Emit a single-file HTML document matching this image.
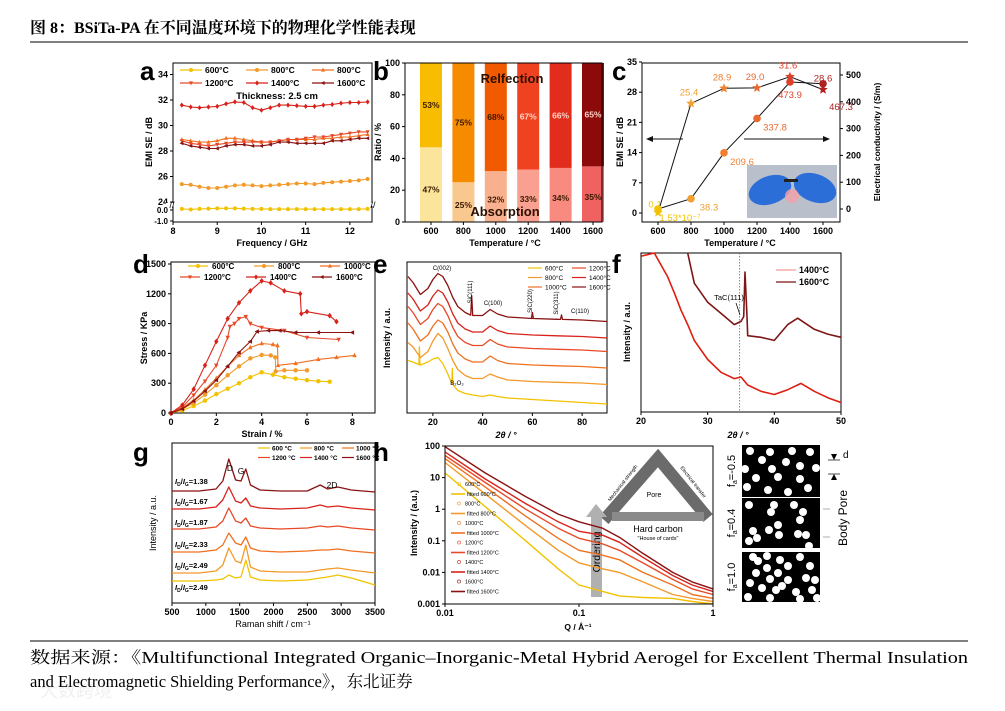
<!DOCTYPE html>
<html><head><meta charset="utf-8"><style>
html,body{margin:0;padding:0;background:#fff;}
svg{display:block;}
</style></head><body>
<svg id="fig" width="1005" height="711" viewBox="0 0 1005 711" xmlns="http://www.w3.org/2000/svg">
<rect width="1005" height="711" fill="#fff"/>
<text x="30" y="33" font-family="Liberation Serif, Noto Serif CJK SC, serif" font-weight="bold" font-size="16">图 8：BSiTa-PA 在不同温度环境下的物理化学性能表现</text>
<line x1="30" y1="42" x2="968" y2="42" stroke="#000" stroke-width="1"/>
<line x1="30" y1="641" x2="968" y2="641" stroke="#000" stroke-width="1"/>
<text x="40" y="697" font-family="Liberation Sans, Noto Sans CJK SC, sans-serif" font-size="18" fill="#f0f0f0">大数跨境</text>
<text x="30" y="663" font-family="Liberation Serif, Noto Serif CJK SC, serif" font-size="16.5" textLength="938" lengthAdjust="spacingAndGlyphs">数据来源：《Multifunctional Integrated Organic–Inorganic-Metal Hybrid Aerogel for Excellent Thermal Insulation</text>
<text x="30" y="687" font-family="Liberation Serif, Noto Serif CJK SC, serif" font-size="16.5">and Electromagnetic Shielding Performance》，东北证券</text>
</svg>
<script>
// ---------- data ----------
const tempNames=['600°C','800°C','1000°C','1200°C','1400°C','1600°C'];
const colors=['#f2c200','#f39a2a','#f07020','#e84a28','#d8221a','#8a1212'];
// panel a
const freqA=[8.2,8.4,8.6,8.8,9.0,9.2,9.4,9.6,9.8,10.0,10.2,10.4,10.6,10.8,11.0,11.2,11.4,11.6,11.8,12.0,12.2,12.4];
const seA600=[0.1,0.05,0.1,0.12,0.15,0.15,0.15,0.12,0.1,0.1,0.08,0.08,0.08,0.08,0.08,0.08,0.08,0.08,0.08,0.08,0.08,0.1];
const seA800=[25.4,25.35,25.2,25.1,25.1,25.2,25.3,25.35,25.3,25.25,25.3,25.35,25.4,25.45,25.45,25.4,25.5,25.55,25.6,25.65,25.7,25.8];
const seA1000=[28.9,28.8,28.7,28.7,28.8,29.0,29.0,28.9,28.8,28.7,28.7,28.8,28.9,28.9,28.9,28.9,29.0,29.0,29.1,29.1,29.2,29.3];
const seA1200=[28.8,28.6,28.5,28.4,28.5,28.6,28.7,28.7,28.7,28.7,28.7,28.8,28.9,28.9,29.0,29.1,29.1,29.2,29.3,29.4,29.5,29.5];
const seA1400=[31.6,31.45,31.4,31.45,31.5,31.7,31.85,31.8,31.4,31.2,31.4,31.6,31.6,31.55,31.5,31.5,31.6,31.65,31.75,31.8,31.8,31.85];
const seA1600=[28.6,28.4,28.3,28.2,28.2,28.4,28.5,28.5,28.4,28.4,28.5,28.7,28.7,28.6,28.6,28.6,28.6,28.8,28.8,28.9,29.0,29.0];
const legendA=['600°C','800°C','800°C','1200°C','1400°C','1600°C'];
// panel b
const tempsB=[600,800,1000,1200,1400,1600];
const absorptionB=[47,25,32,33,34,35];
const reflectionB=[53,75,68,67,66,65];
// panel c
const tempsC=[600,800,1000,1200,1400,1600];
const seC=[0.1,25.4,28.9,29.0,31.6,28.6];
const condC=[0.0000002,38.3,209.6,337.8,473.9,467.3];
const condLabelsC=['1.53*10⁻⁷','38.3','209.6','337.8','473.9','467.3'];
// panel d
const dStrain600=[0,0.5,1,1.5,2,2.5,3,3.5,4,4.5,5,5.5,6,6.5,7];
const dStress600=[0,25,70,125,190,245,300,360,410,385,360,345,330,320,315];
const dStrain800=[0,0.5,1,1.5,2,2.5,3,3.5,4,4.4,4.6,4.62,5,5.5,6];
const dStress800=[0,40,100,185,280,380,470,550,585,580,560,420,430,430,430];
const dStrain1000=[0,0.5,1,1.5,2,2.5,3,3.5,4,4.5,4.7,4.72,5.5,6.5,7.3,8.1];
const dStress1000=[0,50,130,235,350,470,580,660,700,690,680,480,500,540,560,580];
const dStrain1200=[0,0.5,1,1.5,2,2.5,2.6,2.8,3,3.3,3.5,4,5,6,7.4];
const dStress1200=[0,60,180,320,480,760,870,900,950,970,900,860,830,760,740];
const dStrain1400=[0,0.5,1,1.5,2,2.5,3,3.5,4,4.4,5,5.7,5.75,6,7,7.3];
const dStress1400=[0,80,240,480,720,950,1110,1230,1330,1310,1230,1200,1000,1020,980,920];
const dStrain1600=[0,0.5,1,1.5,2,2.5,3,3.5,3.8,4.3,4.8,5.5,6.5,8];
const dStress1600=[0,40,120,220,330,470,610,720,820,830,830,810,810,810];
// panel e
const twoThetaE=[10,12,15,18,20,22,24,26,28,30,33,36,40,43,46,50,60,70,80,90];
const xrdE600=[35,34,32,34,36,37,33,26,19,15,13,12,11,12,11,10,9,8,7,6];
const xrdE800=[47,44,37,41,48,53,50,43,35,29,25,23,23,26,24,22,21,20.5,20,19];
const xrdE1000=[60,56,48,52,58,62,60,54,46,40,36,34,34,38,35,33,32,31.5,31,30];
const xrdE1200=[71,67,59,63,69,73,71,65,57,51,47,45,45,49,46,44,43,42.5,42,41];
const xrdE1400=[80,76,68,72,78,82,80,74,66,60,56,54,54,58,55,53,52,51.5,51,50];
const xrdE1600=[91,87,79,83,89,93,91,85,77,71,67,65,65,69,66,64,63,62.5,62,61];
const sicPeakPosE=[35.6,60,71.7];
const sicPeakHtE=[13,4,3];
// panel f
const twoThetaF1400=[20,22,24,25,26,27,28,29,30,32,34,35,36,38,40,42,44,46,48,50];
const xrdF1400=[98,100,85,75,64,55,45,39,33,25,21,22,17,13,11,14,18,13,9,6];
const twoThetaF1600=[27,28,30,32,34,35,35.4,35.6,35.9,36,38,40,42,43.5,46,48,50];
const xrdF1600=[100,81,69,62,55,57,60,88,60,48,47,45,55,59,52,49,47];
// panel g
const ramanG=[500,900,1150,1250,1340,1440,1520,1590,1660,1800,2100,2500,2690,2800,2950,3150,3500];
const rG600=[22,22,23,24,28,25,26,43,26,23,22,23,25,26,28,25,18];
const rG800=[30,30,32,38,55,42,40,58,36,32,31,31,33,34,35,33,30];
const rG1000=[51,51,53,58,70,60,58,66,55,52,51,52,53,53,54,52,50];
const rG1200=[74,74,76,82,95,82,80,85,77,75,74,75,77,76,77,75,73];
const rG1400=[94,94,96,103,116,102,100,105,97,95,94,95,98,96,97,95,93];
const rG1600=[112,112,114,122,144,123,122,134,118,113,112,112,118,114,116,113,111];
const ratioG=['1.38','1.67','1.87','2.33','2.49','2.49'];
// panel h
const qH=[0.01,0.02,0.04,0.07,0.1,0.15,0.2,0.3,0.5,0.7,1];
const iH600=[14,1.2,0.1,0.013,0.004,0.0025,0.0018,0.0016,0.0015,0.0012,0.001];
const iH800=[30,3,0.3,0.05,0.02,0.013,0.01,0.005,0.002,0.0015,0.0012];
const iH1000=[40,5,0.6,0.12,0.05,0.035,0.025,0.01,0.004,0.002,0.0015];
const iH1200=[50,7,1,0.25,0.12,0.08,0.05,0.02,0.006,0.003,0.002];
const iH1400=[65,9,1.5,0.4,0.2,0.15,0.09,0.03,0.008,0.004,0.0025];
const iH1600=[95,14,2.5,0.7,0.4,0.25,0.13,0.04,0.01,0.005,0.003];

// ---------- helpers ----------
const NS='http://www.w3.org/2000/svg';
const svg=document.getElementById('fig');
const FF='Liberation Sans, Arial, sans-serif';
function el(tag,attrs,name,parent){
  const e=document.createElementNS(NS,tag);
  for(const k in attrs)e.setAttribute(k,attrs[k]);
  
  
  (parent||svg).appendChild(e);return e;
}
function txt(x,y,s,name,o){
  const a=Object.assign({x:x,y:y,'font-size':9,'font-family':FF,'text-anchor':'middle','font-weight':'bold'},o||{});
  const t=el('text',a,name);t.textContent=s;return t;
}
function vtxt(x,y,s,name,o){
  const a=Object.assign({x:0,y:0,'font-size':9,'font-family':FF,'text-anchor':'middle','font-weight':'bold',transform:'translate('+x+','+y+') rotate(-90)'},o||{});
  const t=el('text',a,name);t.textContent=s;return t;
}
function lin(d0,d1,r0,r1){return v=>r0+(v-d0)*(r1-r0)/(d1-d0);}
function poly(pts,c,name,w){
  return el('polyline',{points:pts.map(p=>p[0].toFixed(1)+','+p[1].toFixed(1)).join(' '),fill:'none',stroke:c,'stroke-width':w||1.2,'stroke-linejoin':'round'},name);
}
function mark(type,x,y,c,name,s){
  s=s||2.4;let p;
  if(type==='circle')return el('circle',{cx:x,cy:y,r:s,fill:c},name);
  if(type==='up')p=[[x,y-s*1.2],[x-s,y+s*.8],[x+s,y+s*.8]];
  else if(type==='down')p=[[x,y+s*1.2],[x-s,y-s*.8],[x+s,y-s*.8]];
  else if(type==='left')p=[[x-s*1.2,y],[x+s*.8,y-s],[x+s*.8,y+s]];
  else if(type==='star'){p=[];for(let i=0;i<10;i++){const r=i%2?s*0.45:s;const a=-Math.PI/2+i*Math.PI/5;p.push([x+r*Math.cos(a),y+r*Math.sin(a)]);}}
  else p=[[x,y-s*1.3],[x-s,y],[x,y+s*1.3],[x+s,y]];
  return el('polygon',{points:p.map(q=>q[0].toFixed(1)+','+q[1].toFixed(1)).join(' '),fill:c},name);
}
function box(x0,y0,x1,y1,name){el('rect',{x:x0,y:y0,width:x1-x0,height:y1-y0,fill:'none',stroke:'#000','stroke-width':1},name);}
function xticks(vals,sx,yb,name,labels,fs){vals.forEach((v,i)=>{const x=sx(v);el('line',{x1:x,y1:yb,x2:x,y2:yb+3,stroke:'#000'},name+'-tick');txt(x,yb+12,labels?labels[i]:String(v),name+'-label',{'font-size':fs||9});});}
function yticks(vals,sy,xl,name,labels,right,fs){vals.forEach((v,i)=>{const y=sy(v);el('line',{x1:xl,y1:y,x2:right?xl+3:xl-3,y2:y,stroke:'#000'},name+'-tick');txt(right?xl+6:xl-5,y+3,labels?labels[i]:String(v),name+'-label',{'text-anchor':right?'start':'end','font-size':fs||9});});}
function plabel(x,y,s){txt(x,y,s,'panel-label-'+s,{'font-size':26,'text-anchor':'start'});}
const mk=['circle','circle','up','down','diamond','left'];

// ---------- panel a ----------
(function(){
  const xa=lin(8,12.5,173,372);
  const ya=v=>v>=20?202-(v-24)*12.75:210-v*11;
  box(173,63,372,222,'panel-a-frame');
  xticks([8,9,10,11,12],xa,222,'a-x');
  yticks([24,26,28,30,32,34],ya,173,'a-y');
  yticks([0,-1],ya,173,'a-y-broken',['0.0','-1.0'],false,8);
  el('rect',{x:166,y:203,width:212,height:3,fill:'#fff'},'a-axis-break-gap');
  txt(172,208,'//','a-axis-break-left',{'font-size':9,'font-weight':'normal'});
  txt(373,208,'//','a-axis-break-right',{'font-size':9,'font-weight':'normal'});
  const series=[seA600,seA800,seA1000,seA1200,seA1400,seA1600];
  series.forEach((s,k)=>{
    const pts=s.map((v,i)=>[xa(freqA[i]),ya(v)]);
    poly(pts,colors[k],'a-line-'+tempNames[k],1.1);
    pts.forEach(p=>mark(mk[k],p[0],p[1],colors[k],'a-point',2));
  });
  legendA.forEach((n,k)=>{const x=180+(k%3)*66,y=70+Math.floor(k/3)*13;
    el('line',{x1:x,y1:y,x2:x+22,y2:y,stroke:colors[k],'stroke-width':1.2},'a-legend-line');
    mark(mk[k],x+11,y,colors[k],'a-legend-marker',2);
    txt(x+25,y+3,n,'a-legend-entry',{'text-anchor':'start','font-size':8.5});});
  txt(277,99,'Thickness: 2.5 cm','a-annotation',{'font-size':9.5});
  txt(272,246,'Frequency / GHz','a-x-title');
  vtxt(152,142,'EMI SE / dB','a-y-title');
  plabel(140,80,'a');
})();

// ---------- panel b ----------
(function(){
  const xb=lin(600,1600,431,593);
  const yb=lin(0,100,222,63);
  const rc=['#f8bd00','#f68b00','#f25a00','#ef4220','#e22c1c','#8c0a0a'];
  const ac=['#fbe49c','#f9c88e','#f9b08e','#f9a090','#f88a80','#f06262'];
  tempsB.forEach((t,i)=>{
    const x=xb(t)-11;
    el('rect',{x:x,y:yb(absorptionB[i]),width:22,height:yb(0)-yb(absorptionB[i]),fill:ac[i]},'b-bar-absorption-'+t);
    el('rect',{x:x,y:yb(absorptionB[i]+reflectionB[i]),width:22,height:yb(absorptionB[i])-yb(absorptionB[i]+reflectionB[i]),fill:rc[i]},'b-bar-reflection-'+t);
    txt(xb(t),yb(absorptionB[i]+reflectionB[i]/2)+3,reflectionB[i]+'%','b-value-reflection',{fill:i>2?'#ffd4c8':'#3a1a00','font-size':8.5});
    txt(xb(t),yb(absorptionB[i]/2)+(i===0?8:6),absorptionB[i]+'%','b-value-absorption',{fill:'#3a1a00','font-size':8.5});
  });
  box(405,63,602,222,'panel-b-frame');
  xticks(tempsB,xb,222,'b-x');
  yticks([0,20,40,60,80,100],yb,405,'b-y');
  txt(512,83,'Relfection','b-reflection-label',{'font-size':13,fill:'#2a1000'});
  txt(505,216,'Absorption','b-absorption-label',{'font-size':13,fill:'#2a1000'});
  txt(505,246,'Temperature / °C','b-x-title');
  vtxt(381,142,'Ratio / %','b-y-title');
  plabel(373,80,'b');
})();

// ---------- panel c ----------
(function(){
  const xc=lin(600,1600,658,823);
  const yl=lin(0,35,213,62);
  const yr=lin(0,500,209,75);
  el('rect',{x:747,y:165,width:90,height:53,fill:'#b9c0cc'},'c-photo-inset');
  el('ellipse',{cx:770,cy:190,rx:22,ry:14,fill:'#2c6ed8',transform:'rotate(-20 770 190)'},'c-photo-glove-left');
  el('ellipse',{cx:815,cy:188,rx:22,ry:14,fill:'#2c6ed8',transform:'rotate(20 815 188)'},'c-photo-glove-right');
  el('circle',{cx:792,cy:196,r:7,fill:'#f4a0a8',opacity:0.8},'c-photo-led-glow');
  el('rect',{x:784,y:179,width:14,height:3,fill:'#222'},'c-photo-sample');
  box(642,63,840,222,'panel-c-frame');
  xticks(tempsC,xc,222,'c-x');
  yticks([0,7,14,21,28,35],yl,642,'c-y-left');
  yticks([0,100,200,300,400,500],yr,840,'c-y-right',null,true);
  poly(tempsC.map((t,i)=>[xc(t),yl(seC[i])]),'#111','c-line-emi-se',1);
  poly(tempsC.map((t,i)=>[xc(t),yr(condC[i])]),'#111','c-line-conductivity',1);
  const cc=['#f2c200','#f2a030','#f08030','#e86a30','#e0402a','#b02020'];
  tempsC.forEach((t,i)=>{
    mark('circle',xc(t),yr(condC[i]),cc[i],'c-point-conductivity',3.8);
    mark('star',xc(t),yl(seC[i]),cc[i],'c-point-emi-se',5);
    txt(xc(t)+(i===0?-3:(i===5?0:-2)),yl(seC[i])-(i===0?5:8),String(seC[i].toFixed(1)),'c-value-emi-se',{fill:cc[i],'font-size':9.5,'font-weight':'normal'});
    txt(xc(t)+(i===0?22:(i===4?0:18)),yr(condC[i])+(i===4?16:(i===5?26:12)),condLabelsC[i],'c-value-conductivity',{fill:cc[i],'font-size':9.5,'font-weight':'normal'});
  });
  el('line',{x1:683,y1:139,x2:649,y2:139,stroke:'#111','stroke-width':1},'c-arrow-left');
  el('polygon',{points:'646,139 653,136 653,142',fill:'#111'},'c-arrow-left-head');
  el('line',{x1:744,y1:139,x2:826,y2:139,stroke:'#111','stroke-width':1},'c-arrow-right');
  el('polygon',{points:'830,139 823,136 823,142',fill:'#111'},'c-arrow-right-head');
  txt(740,246,'Temperature / °C','c-x-title');
  vtxt(623,142,'EMI SE / dB','c-y-left-title');
  vtxt(880,142,'Electrical conductivity / (S/m)','c-y-right-title',{'font-size':8.5});
  plabel(612,80,'c');
})();

// ---------- panel d ----------
(function(){
  const xd=lin(0,9,171,375);
  const yd=lin(0,1500,413,264);
  box(171,262,375,413,'panel-d-frame');
  xticks([0,2,4,6,8],xd,413,'d-x');
  yticks([0,300,600,900,1200,1500],yd,171,'d-y');
  const sx=[dStrain600,dStrain800,dStrain1000,dStrain1200,dStrain1400,dStrain1600];
  const sy=[dStress600,dStress800,dStress1000,dStress1200,dStress1400,dStress1600];
  sx.forEach((xs,k)=>{
    const pts=xs.map((v,i)=>[xd(v),yd(sy[k][i])]);
    poly(pts,colors[k],'d-line-'+tempNames[k],1.1);
    pts.forEach(p=>mark(mk[k],p[0],p[1],colors[k],'d-point',2.2));
  });
  tempNames.forEach((n,k)=>{const x=(k<3?188:180)+(k%3)*66,y=266+Math.floor(k/3)*11;
    el('line',{x1:x,y1:y,x2:x+20,y2:y,stroke:colors[k],'stroke-width':1.2},'d-legend-line');
    mark(mk[k],x+10,y,colors[k],'d-legend-marker',2);
    txt(x+24,y+3,n,'d-legend-entry',{'text-anchor':'start','font-size':8});});
  txt(262,437,'Strain / %','d-x-title');
  vtxt(147,338,'Stress / KPa','d-y-title');
  plabel(133,273,'d');
})();

// ---------- panel e ----------
(function(){
  const xe=lin(10,90,408,607);
  const ye=v=>413-v*1.5;
  box(407,262,607,413,'panel-e-frame');
  xticks([20,40,60,80],xe,413,'e-x');
  const ser=[xrdE600,xrdE800,xrdE1000,xrdE1200,xrdE1400,xrdE1600];
  ser.forEach((s,k)=>{
    let pts=s.map((v,i)=>[twoThetaE[i],v]);
    if(k===5){sicPeakPosE.forEach((p,j)=>{let idx=pts.findIndex(q=>q[0]>p);const base=pts[idx-1][1]+(pts[idx][1]-pts[idx-1][1])*(p-pts[idx-1][0])/(pts[idx][0]-pts[idx-1][0]);pts.splice(idx,0,[p-0.4,base],[p,base+sicPeakHtE[j]],[p+0.4,base]);});}
    if(k===0){[[14.6,12],[27.8,10]].forEach(sp=>{let idx=pts.findIndex(q=>q[0]>sp[0]);const base=pts[idx-1][1]+(pts[idx][1]-pts[idx-1][1])*(sp[0]-pts[idx-1][0])/(pts[idx][0]-pts[idx-1][0]);pts.splice(idx,0,[sp[0]-0.2,base],[sp[0],base+sp[1]],[sp[0]+0.2,base]);});}
    poly(pts.map(p=>[xe(p[0]),ye(p[1])]),colors[k],'e-line-'+tempNames[k],1.3);
  });
  tempNames.forEach((n,k)=>{const x=528+Math.floor(k/3)*44,y=268+(k%3)*9.5;
    el('line',{x1:x,y1:y,x2:x+14,y2:y,stroke:colors[k],'stroke-width':1.2},'e-legend-line');
    txt(x+17,y+2.5,n,'e-legend-entry',{'text-anchor':'start','font-size':6.5,'font-weight':'normal'});});
  txt(442,270,'C(002)','e-peak-c002',{'font-size':6,'font-weight':'normal'});
  vtxt(472,292,'SiC(111)','e-peak-sic111',{'font-size':6,'font-weight':'normal'});
  txt(493,305,'C(100)','e-peak-c100',{'font-size':6,'font-weight':'normal'});
  vtxt(532,301,'SiC(220)','e-peak-sic220',{'font-size':6,'font-weight':'normal'});
  vtxt(558,303,'SiC(311)','e-peak-sic311',{'font-size':6,'font-weight':'normal'});
  txt(580,313,'C(110)','e-peak-c110',{'font-size':6,'font-weight':'normal'});
  txt(457,385,'B₂O₃','e-peak-b2o3',{'font-size':6,'font-weight':'normal'});
  txt(506,438,'2θ / °','e-x-title',{'font-style':'italic'});
  vtxt(390,338,'Intensity / a.u.','e-y-title');
  plabel(373,273,'e');
})();

// ---------- panel f ----------
(function(){
  const xf=lin(20,50,641,841);
  const yf=lin(0,100,412,253);
  box(641,253,841,412,'panel-f-frame');
  xticks([20,30,40,50],xf,412,'f-x');
  el('line',{x1:xf(34.8),y1:253,x2:xf(34.8),y2:412,stroke:'#666','stroke-dasharray':'1.5,1.5','stroke-width':0.8},'f-tac-reference-line');
  poly(twoThetaF1400.map((t,i)=>[xf(t),yf(xrdF1400[i])]),'#e01e10','f-line-1400',1.6);
  poly(twoThetaF1600.map((t,i)=>[xf(t),yf(xrdF1600[i])]),'#7e1616','f-line-1600',1.6);
  el('line',{x1:776,y1:270,x2:796,y2:270,stroke:'#f08080','stroke-width':1},'f-legend-line-1400');
  txt(799,273,'1400°C','f-legend-entry-1400',{'text-anchor':'start'});
  el('line',{x1:776,y1:282,x2:796,y2:282,stroke:'#7e1616','stroke-width':1.2},'f-legend-line-1600');
  txt(799,285,'1600°C','f-legend-entry-1600',{'text-anchor':'start'});
  txt(729,300,'TaC(111)','f-peak-tac111',{'font-size':7.5,'font-weight':'normal'});
  el('line',{x1:736,y1:303,x2:740,y2:315,stroke:'#000','stroke-width':0.7},'f-peak-pointer');
  txt(738,438,'2θ / °','f-x-title',{'font-style':'italic'});
  vtxt(630,332,'Intensity / a.u.','f-y-title');
  plabel(612,273,'f');
})();

// ---------- panel g ----------
(function(){
  const xg=lin(500,3500,172,375);
  const yg=v=>603-v;
  box(172,443,375,603,'panel-g-frame');
  xticks([500,1000,1500,2000,2500,3000,3500],xg,603,'g-x');
  const ser=[rG600,rG800,rG1000,rG1200,rG1400,rG1600];
  ser.forEach((s,k)=>poly(s.map((v,i)=>[xg(ramanG[i]),yg(v)]),colors[k],'g-line-'+tempNames[k],1.3));
  tempNames.forEach((n,k)=>{const x=258+(k%3)*42,y=448+Math.floor(k/3)*9.5;
    el('line',{x1:x,y1:y,x2:x+12,y2:y,stroke:colors[k],'stroke-width':1.2},'g-legend-line');
    txt(x+14,y+2.5,n.replace('°C',' °C'),'g-legend-entry',{'text-anchor':'start','font-size':6.5});});
  ratioG.forEach((r,i)=>{const y=[590,568,547,525,504,484][i];
    const t=txt(175,y,'','g-ratio-label',{'text-anchor':'start','font-size':7.5});
    t.innerHTML='<tspan font-style="italic">I</tspan><tspan font-size="5" dy="2">D</tspan><tspan dy="-2">/</tspan><tspan font-style="italic">I</tspan><tspan font-size="5" dy="2">G</tspan><tspan dy="-2">='+ratioG[5-i]+'</tspan>';});
  txt(230,471,'D','g-peak-d',{'font-size':8.5,'font-weight':'normal'});
  txt(241,474,'G','g-peak-g',{'font-size':8.5,'font-weight':'normal'});
  txt(332,488,'2D','g-peak-2d',{'font-size':8.5,'font-weight':'normal'});
  txt(273,627,'Raman shift / cm⁻¹','g-x-title',{'font-weight':'normal'});
  vtxt(156,523,'Intensity / a.u.','g-y-title',{'font-weight':'normal'});
  plabel(133,461,'g');
})();

// ---------- panel h ----------
(function(){
  const xh=q=>445+(Math.log10(q)+2)*134;
  const yh=v=>604-(Math.log10(v)+3)*31.6;
  const ser=[iH600,iH800,iH1000,iH1200,iH1400,iH1600];
  el('polyline',{points:'604,520 658,458 708,518',fill:'none',stroke:'#6b6b6b','stroke-width':12,'stroke-linejoin':'miter'},'h-inset-triangle-legs');
  el('rect',{x:612,y:512,width:92,height:9,fill:'#8a8a8a'},'h-inset-triangle-base');
  txt(654,497,'Pore','h-inset-pore',{'font-size':7,'font-weight':'normal'});
  txt(658,532,'Hard carbon','h-inset-hard-carbon',{'font-size':9,'font-weight':'normal'});
  txt(658,540,'"House of cards"','h-inset-house-of-cards',{'font-size':5.5,'font-weight':'normal'});
  txt(0,0,'Mechanical strength','h-inset-leg-left',{'font-size':5,'font-weight':'normal',transform:'translate(624,484) rotate(-52)'});
  txt(0,0,'Electrical transfer','h-inset-leg-right',{'font-size':5,'font-weight':'normal',transform:'translate(692,483) rotate(52)'});
  el('rect',{x:591,y:515,width:11,height:82,fill:'#b0b0b0'},'h-ordering-arrow-shaft');
  el('polygon',{points:'586,517 596,504 607,517',fill:'#b0b0b0'},'h-ordering-arrow-head');
  vtxt(600,552,'Ordering','h-ordering-label',{'font-size':10.5,'font-weight':'normal'});
  ser.forEach((s,k)=>poly(qH.map((q,i)=>[xh(q),yh(s[i])]),colors[k],'h-line-'+tempNames[k],1.4));
  box(445,446,713,604,'panel-h-frame');
  [0.01,0.1,1].forEach(q=>{el('line',{x1:xh(q),y1:604,x2:xh(q),y2:607,stroke:'#000'},'h-x-tick');txt(xh(q),616,String(q),'h-x-label');});
  [100,10,1,0.1,0.01,0.001].forEach(v=>{el('line',{x1:445,y1:yh(v),x2:442,y2:yh(v),stroke:'#000'},'h-y-tick');txt(440,yh(v)+3,String(v),'h-y-label',{'text-anchor':'end'});});
  tempNames.forEach((n,k)=>{const y=484+k*19.5;
    el('circle',{cx:459,cy:y,r:1.6,fill:'none',stroke:colors[k],'stroke-width':0.6},'h-legend-marker');
    txt(465,y+2,n,'h-legend-entry',{'text-anchor':'start','font-size':5.5,'font-weight':'normal'});
    el('line',{x1:451,y1:y+10,x2:465,y2:y+10,stroke:colors[k],'stroke-width':1.6},'h-legend-line');
    txt(467,y+12,'fitted '+n,'h-legend-fitted-entry',{'text-anchor':'start','font-size':5.5,'font-weight':'normal'});});
  txt(578,630,'Q / Å⁻¹','h-x-title',{'font-size':8.5});
  vtxt(417,523,'Intensity / (a.u.)','h-y-title');
  plabel(373,461,'h');
})();

// ---------- pore images ----------
(function(){
  const rows=[[445,497],[498,548],[552,602]];
  const circA=[[750,451],[770,452],[792,451],[810,452],[762,460],[786,462],[800,466],[745,469],[772,469],[756,478],[778,477],[800,479],[747,487],[768,490],[788,492],[808,488],[816,468]];
  const circB=[[749,505],[771,512],[774,505],[753,531],[769,530],[778,525],[779,535],[749,541],[757,538],[803,512],[800,520],[798,534],[806,535],[809,546],[794,505]];
  const circC=[[753,557],[767,556],[780,560],[788,566],[800,557],[810,566],[806,578],[788,580],[778,573],[767,568],[756,573],[750,583],[762,588],[776,590],[796,592],[812,590],[748,597],[770,598],[800,599],[817,598],[758,561],[815,580],[782,586],[770,579]];
  const cs=[circA,circB,circC];
  const labs=['=-0.5','=0.4','=1.0'];
  rows.forEach((r,i)=>{
    el('rect',{x:742,y:r[0],width:78,height:r[1]-r[0],fill:'#000'},'pore-image-'+i);
    cs[i].forEach(c=>el('circle',{cx:c[0],cy:c[1],r:4,fill:'#fff'},'pore-particle'));
    const t=vtxt(735,(r[0]+r[1])/2,'','pore-fa-label',{'font-size':11,'font-weight':'normal'});
    t.innerHTML='f<tspan font-size="7" dy="2">a</tspan><tspan dy="-2">'+labs[i]+'</tspan>';
  });
  el('line',{x1:828,y1:460,x2:840,y2:460,stroke:'#000','stroke-width':0.7},'pore-d-line-top');
  el('line',{x1:828,y1:474,x2:840,y2:474,stroke:'#000','stroke-width':0.7},'pore-d-line-bottom');
  el('polygon',{points:'834,460 831,454 837,454',fill:'#000'},'pore-d-arrow-top');
  el('polygon',{points:'834,474 831,480 837,480',fill:'#000'},'pore-d-arrow-bottom');
  txt(843,458,'d','pore-d-label',{'font-size':10,'font-weight':'normal','text-anchor':'start'});
  el('line',{x1:823,y1:509,x2:830,y2:509,stroke:'#888','stroke-width':0.7},'pore-body-pointer-1');
  el('line',{x1:823,y1:537,x2:830,y2:537,stroke:'#888','stroke-width':0.7},'pore-body-pointer-2');
  vtxt(847,518,'Body Pore','pore-body-label',{'font-size':12,'font-weight':'normal'});
})();
</script>
</body></html>
